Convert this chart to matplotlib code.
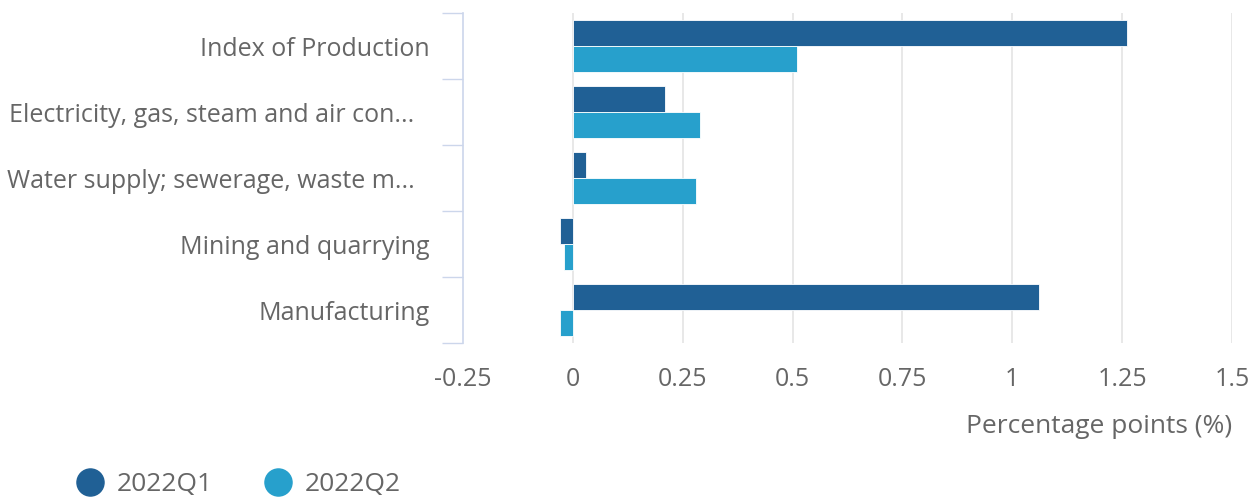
import numpy as np
import matplotlib
matplotlib.use("Agg")
import matplotlib.pyplot as plt
from matplotlib.lines import Line2D
from matplotlib.transforms import ScaledTranslation

plt.rcParams['font.family'] = ['Open Sans', 'DejaVu Sans']

categories = [
    "Index of Production",
    "Electricity, gas, steam and air con...",
    "Water supply; sewerage, waste m...",
    "Mining and quarrying",
    "Manufacturing",
]
series_names = ["2022Q1", "2022Q2"]
q1_values = [1.26, 0.21, 0.03, -0.03, 1.06]
q2_values = [0.51, 0.29, 0.28, -0.02, -0.03]
x_ticks = [-0.25, 0, 0.25, 0.5, 0.75, 1, 1.25, 1.5]
x_tick_labels = ["-0.25", "0", "0.25", "0.5", "0.75", "1", "1.25", "1.5"]

dark_blue = "#206095"
light_blue = "#27a0cc"
text_grey = "#666666"
axis_col = "#ccd6eb"
grid_col = "#e6e6e6"

W, H = 1258, 500
fig = plt.figure(figsize=(W / 100, H / 100), dpi=100)
ax = fig.add_axes([463 / W, (H - 343) / H, (1232 - 463) / W, 330 / H])

n = len(categories)
y = np.arange(n)
bh = 0.4
ax.barh(y - bh / 2, q1_values, height=bh, color=dark_blue, edgecolor="white", linewidth=0.6, zorder=3)
ax.barh(y + bh / 2, q2_values, height=bh, color=light_blue, edgecolor="white", linewidth=0.6, zorder=3)

ax.set_ylim(n - 0.5, -0.5)
ax.set_xlim(-0.25, 1.5)

# vertical grid lines at every tick right of the category axis
for t in x_ticks[1:]:
    ax.axvline(t, color=grid_col, linewidth=1.3, zorder=1)

ax.set_xticks(x_ticks)
ax.set_xticklabels(x_tick_labels)
ax.tick_params(axis="x", length=0, pad=17, labelsize=18, labelcolor=text_grey)

ax.set_yticks(y)
ax.set_yticklabels(categories)
ax.set_yticks(np.arange(n + 1) - 0.5, minor=True)
ax.tick_params(axis="y", which="major", length=0, pad=24, labelsize=18, labelcolor=text_grey)
ax.tick_params(axis="y", which="minor", length=15, width=1, color=axis_col)

# truncated labels sit a little further left
shift = ScaledTranslation(-15 / 100, 0, fig.dpi_scale_trans)
for lab in ax.get_yticklabels():
    if lab.get_text().endswith("..."):
        lab.set_transform(lab.get_transform() + shift)

for s in ["top", "right", "bottom"]:
    ax.spines[s].set_visible(False)
ax.spines["left"].set_color(axis_col)
ax.spines["left"].set_linewidth(1.2)

ax.set_xlabel("Percentage points (%)", loc="right", fontsize=19, color=text_grey, labelpad=16)

handles = [
    Line2D([], [], linestyle="none", marker="o", markersize=19.5, color=dark_blue),
    Line2D([], [], linestyle="none", marker="o", markersize=19.5, color=light_blue),
]
fig.legend(handles, series_names, loc="lower left", bbox_to_anchor=(53 / W, -0.042), ncol=2,
           frameon=False, fontsize=19, labelcolor=text_grey, handletextpad=0.5,
           columnspacing=2.0, handlelength=1.0)

fig.savefig("out.png", dpi=100, facecolor="white")
